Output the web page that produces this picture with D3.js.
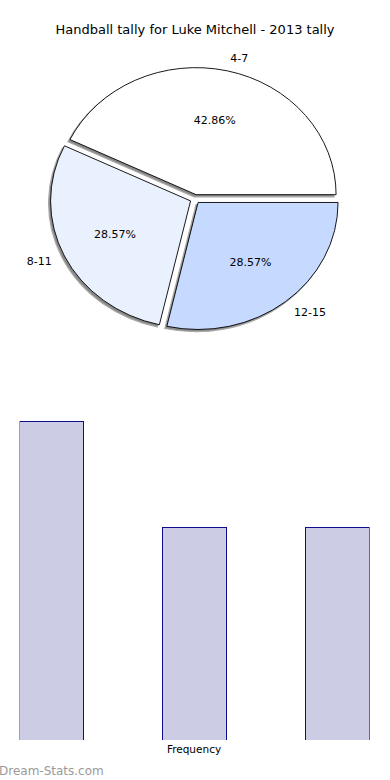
<!DOCTYPE html>
<meta charset="utf-8">
<style>
body { margin: 0; background: #fff; font-family: "DejaVu Sans", sans-serif; }
svg { display: block; }
.lbl { font-size: 11px; fill: #000; }
.pct { font-size: 11px; fill: #000; text-anchor: middle; }
.title { font-size: 13px; text-anchor: middle; fill: #000; }
.bar { fill: #ccccE5; stroke: #0c0c8c; stroke-width: 1.2; shape-rendering: crispEdges; }
</style>
<div id="canvas-svg"></div>
<script src="https://cdnjs.cloudflare.com/ajax/libs/d3/7.8.5/d3.min.js"></script>
<script>
var categories = ["4-7", "8-11", "12-15"];
var counts = [3, 2, 2];
var sliceColors = ["#ffffff", "#eaf1fe", "#c6d9fe"];
var titleText = "Handball tally for Luke Mitchell - 2013 tally";

var width = 390, height = 780;
var svg = d3.select("#canvas-svg").append("svg")
  .attr("width", width)
  .attr("height", height);

svg.append("text").attr("class", "title")
  .attr("x", 195).attr("y", 34)
  .text(titleText);

// pie, drawn on a unit circle then stretched to an ellipse
var cx = 195, cy = 199, rx = 140, ry = 127, explode = 0.035;
var total = d3.sum(counts);
var pie = d3.pie().sort(null).startAngle(Math.PI / 2).endAngle(Math.PI / 2 - 2 * Math.PI);
var arcs = pie(counts);
var arc = d3.arc().innerRadius(0).outerRadius(1);

function dir(d) {
  var m = (d.startAngle + d.endAngle) / 2;
  return [Math.sin(m), -Math.cos(m)];
}

var pieG = svg.append("g");

// shadows first
pieG.selectAll("path.shadow").data(arcs).enter().append("path")
  .attr("class", "shadow")
  .attr("d", arc)
  .attr("transform", function(d) {
    var v = dir(d);
    return "translate(" + (cx - 2 + v[0] * explode * rx) + "," + (cy + 2.2 + v[1] * explode * ry) + ") scale(" + rx + "," + ry + ")";
  })
  .attr("fill", "#888")
  .attr("stroke", "#a8a8a8")
  .attr("stroke-width", 1.2)
  .attr("vector-effect", "non-scaling-stroke");

pieG.selectAll("path.slice").data(arcs).enter().append("path")
  .attr("class", "slice")
  .attr("d", arc)
  .attr("transform", function(d) {
    var v = dir(d);
    return "translate(" + (cx + v[0] * explode * rx) + "," + (cy + v[1] * explode * ry) + ") scale(" + rx + "," + ry + ")";
  })
  .attr("fill", function(d, i) { return sliceColors[i]; })
  .attr("stroke", "#000")
  .attr("stroke-width", 0.9)
  .attr("vector-effect", "non-scaling-stroke");

arcs.forEach(function(d, i) {
  var v = dir(d);
  var ox = cx + v[0] * explode * rx, oy = cy + v[1] * explode * ry;
  svg.append("text").attr("class", "lbl")
    .attr("x", ox + v[0] * 1.1 * rx)
    .attr("y", oy + v[1] * 1.1 * ry)
    .attr("dy", "0.35em")
    .attr("text-anchor", v[0] >= 0 ? "start" : "end")
    .text(categories[i]);
  svg.append("text").attr("class", "pct")
    .attr("x", ox + v[0] * 0.6 * rx)
    .attr("y", oy + v[1] * 0.6 * ry)
    .attr("dy", "0.35em")
    .text((counts[i] / total * 100).toFixed(2) + "%");
});

// bar chart, clipped plot area
var x = d3.scaleBand().domain(categories).range([19, 369]).paddingInner(0.552).paddingOuter(0);
var y = d3.scaleLinear().domain([0, 3]).range([740, 421]);

svg.append("clipPath").attr("id", "plotclip")
  .append("rect").attr("x", 19.6).attr("y", 380).attr("width", 350).attr("height", 360);

svg.append("g").attr("clip-path", "url(#plotclip)")
  .selectAll("rect").data(counts).enter().append("rect")
  .attr("class", "bar")
  .attr("x", function(d, i) { return Math.round(x(categories[i])) + 0.5; })
  .attr("y", function(d) { return Math.round(y(d)) + 0.5; })
  .attr("width", Math.round(x.bandwidth()))
  .attr("height", function(d) { return y(0) - y(d) + 5; });

svg.append("text").attr("class", "lbl")
  .attr("x", x(categories[1]) + x.bandwidth() / 2)
  .attr("y", 753)
  .attr("text-anchor", "middle")
  .style("font-size", "10.5px")
  .text("Frequency");

svg.append("text")
  .attr("x", -1).attr("y", 775)
  .style("font-size", "12px")
  .attr("fill", "#9a9a9a")
  .text("Dream-Stats.com");
</script>
